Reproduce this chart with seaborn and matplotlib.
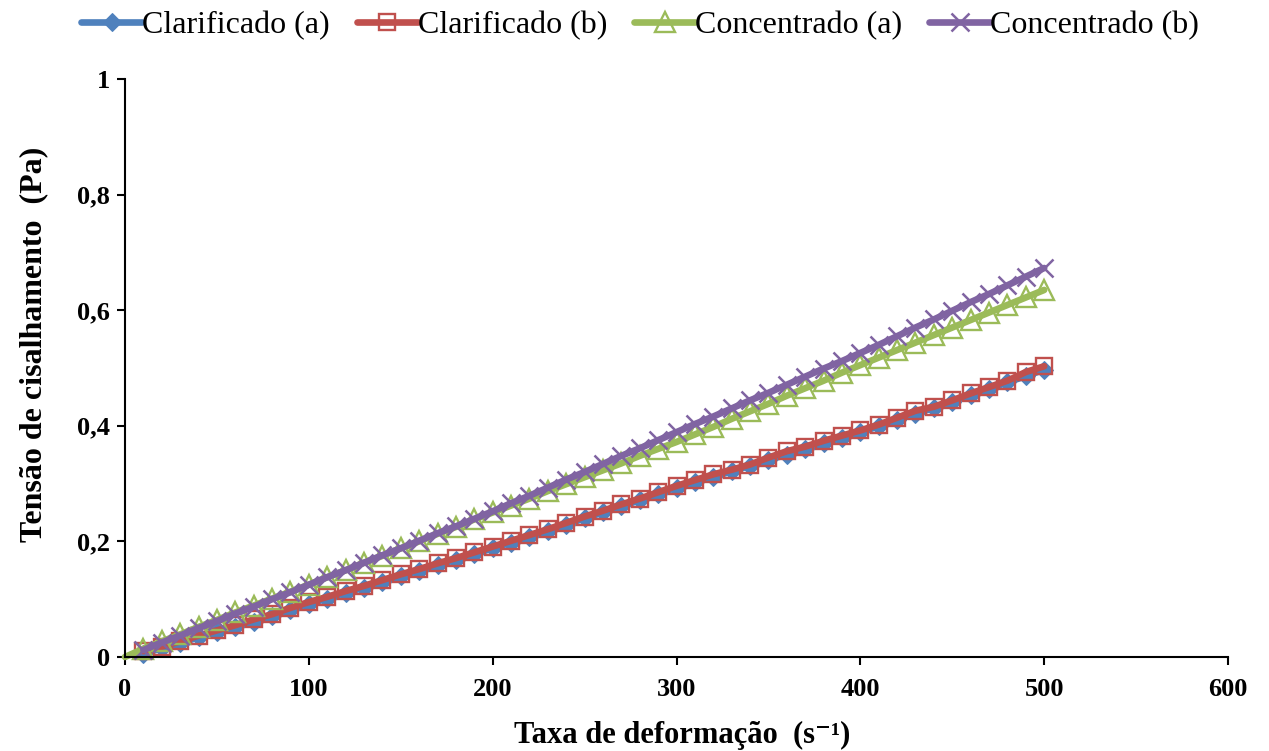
import matplotlib
matplotlib.use("Agg")
import matplotlib.pyplot as plt
import seaborn as sns
from matplotlib.ticker import FuncFormatter

# Shear rate (s^-1)
shear_rate = [10, 20, 30, 40, 50, 60, 70, 80, 90, 100,
              110, 120, 130, 140, 150, 160, 170, 180, 190, 200,
              210, 220, 230, 240, 250, 260, 270, 280, 290, 300,
              310, 320, 330, 340, 350, 360, 370, 380, 390, 400,
              410, 420, 430, 440, 450, 460, 470, 480, 490, 500]
shear_rate_conc_a = [0] + shear_rate

# Shear stress (Pa)
clarificado_a = [0.006, 0.015, 0.024, 0.034, 0.043, 0.052, 0.061, 0.071, 0.082, 0.092,
                 0.101, 0.111, 0.120, 0.130, 0.140, 0.149, 0.159, 0.168, 0.178, 0.188,
                 0.198, 0.208, 0.218, 0.229, 0.240, 0.250, 0.261, 0.271, 0.282, 0.293,
                 0.302, 0.312, 0.321, 0.331, 0.341, 0.350, 0.360, 0.370, 0.379, 0.389,
                 0.399, 0.410, 0.421, 0.431, 0.442, 0.453, 0.464, 0.475, 0.486, 0.497]
clarificado_b = [0.010, 0.018, 0.027, 0.037, 0.046, 0.055, 0.065, 0.074, 0.085, 0.095,
                 0.104, 0.114, 0.123, 0.133, 0.143, 0.152, 0.162, 0.171, 0.181, 0.191,
                 0.201, 0.211, 0.221, 0.232, 0.243, 0.253, 0.264, 0.274, 0.285, 0.296,
                 0.306, 0.316, 0.324, 0.333, 0.345, 0.356, 0.364, 0.374, 0.383, 0.392,
                 0.402, 0.414, 0.426, 0.433, 0.444, 0.456, 0.467, 0.478, 0.493, 0.503]
concentrado_a = [0.000,
                 0.014, 0.027, 0.039, 0.052, 0.064, 0.077, 0.089, 0.101, 0.113, 0.125,
                 0.138, 0.150, 0.163, 0.175, 0.188, 0.200, 0.213, 0.225, 0.238, 0.250,
                 0.262, 0.274, 0.287, 0.299, 0.311, 0.323, 0.335, 0.348, 0.360, 0.372,
                 0.385, 0.398, 0.412, 0.425, 0.438, 0.452, 0.465, 0.478, 0.492, 0.505,
                 0.518, 0.531, 0.544, 0.557, 0.570, 0.583, 0.596, 0.609, 0.622, 0.635]
concentrado_b = [0.012, 0.025, 0.037, 0.050, 0.062, 0.075, 0.087, 0.100, 0.112, 0.125,
                 0.138, 0.150, 0.163, 0.176, 0.188, 0.201, 0.214, 0.226, 0.239, 0.252,
                 0.266, 0.279, 0.293, 0.307, 0.320, 0.334, 0.348, 0.361, 0.375, 0.389,
                 0.403, 0.416, 0.430, 0.444, 0.457, 0.471, 0.485, 0.499, 0.512, 0.526,
                 0.540, 0.555, 0.570, 0.584, 0.599, 0.614, 0.628, 0.643, 0.658, 0.673]

x_ticks = [0, 100, 200, 300, 400, 500, 600]
y_ticks = [0, 0.2, 0.4, 0.6, 0.8, 1.0]

sns.set_theme(style="white")
plt.rcParams["font.family"] = ["Liberation Serif", "DejaVu Serif"]
plt.rcParams.update({"text.color": "black", "axes.labelcolor": "black",
                     "xtick.color": "black", "ytick.color": "black"})

fig = plt.figure(figsize=(12.69, 7.51), dpi=100)
ax = fig.add_axes([0.0985, 0.1252, 0.8692, 0.7696])

series = [
    ("Clarificado (a)", shear_rate, clarificado_a, "#4F81BD",
     dict(marker="D", markersize=9, markerfacecolor="#4F81BD", markeredgecolor="#4F81BD")),
    ("Clarificado (b)", shear_rate, clarificado_b, "#C0504D",
     dict(marker="s", markersize=12, markerfacecolor="none", markeredgecolor="#C0504D",
          markeredgewidth=1.7)),
    ("Concentrado (a)", shear_rate_conc_a, concentrado_a, "#9BBB59",
     dict(marker="^", markersize=14, markerfacecolor="none", markeredgecolor="#9BBB59",
          markeredgewidth=1.7, markevery=slice(1, None))),
    ("Concentrado (b)", shear_rate, concentrado_b, "#8064A2",
     dict(marker="x", markersize=13, markeredgecolor="#8064A2", markeredgewidth=1.8)),
]

for label, xs, ys, color, mk in series:
    sns.lineplot(x=xs, y=ys, ax=ax, color=color, linewidth=4.8, label=label,
                 clip_on=False, **mk)

ax.set_xlim(0, 600)
ax.set_ylim(0, 1)
ax.set_xticks(x_ticks)
ax.set_yticks(y_ticks)
ax.yaxis.set_major_formatter(FuncFormatter(lambda v, p: f"{v:g}".replace(".", ",")))

for side in ("top", "right"):
    ax.spines[side].set_visible(False)
for side in ("left", "bottom"):
    ax.spines[side].set_color("black")
    ax.spines[side].set_linewidth(1.5)

ax.tick_params(axis="both", direction="out", length=6, width=1.5, color="black",
               labelcolor="black", labelsize=19, bottom=True, left=True)
ax.tick_params(axis="x", pad=9)
ax.tick_params(axis="y", pad=5)
for lbl in ax.get_xticklabels() + ax.get_yticklabels():
    lbl.set_fontweight("bold")

ax.set_xlabel("Taxa de deformação  (s⁻¹)", fontsize=22, fontweight="bold", color="black")
ax.xaxis.set_label_coords(0.505, -0.11)
ax.set_ylabel("Tensão de cisalhamento  (Pa)", fontsize=23, fontweight="bold", color="black")
ax.yaxis.set_label_coords(-0.07, 0.54)

handles, labels = ax.get_legend_handles_labels()
leg = ax.legend(handles, labels, loc="upper center", bbox_to_anchor=(0.467, 1.14), ncol=4,
                frameon=False, fontsize=23, handlelength=1.9, handletextpad=0.0,
                columnspacing=0.85, borderaxespad=0)
for t in leg.get_texts():
    t.set_color("black")

fig.savefig("out.png", dpi=100, facecolor="white")
